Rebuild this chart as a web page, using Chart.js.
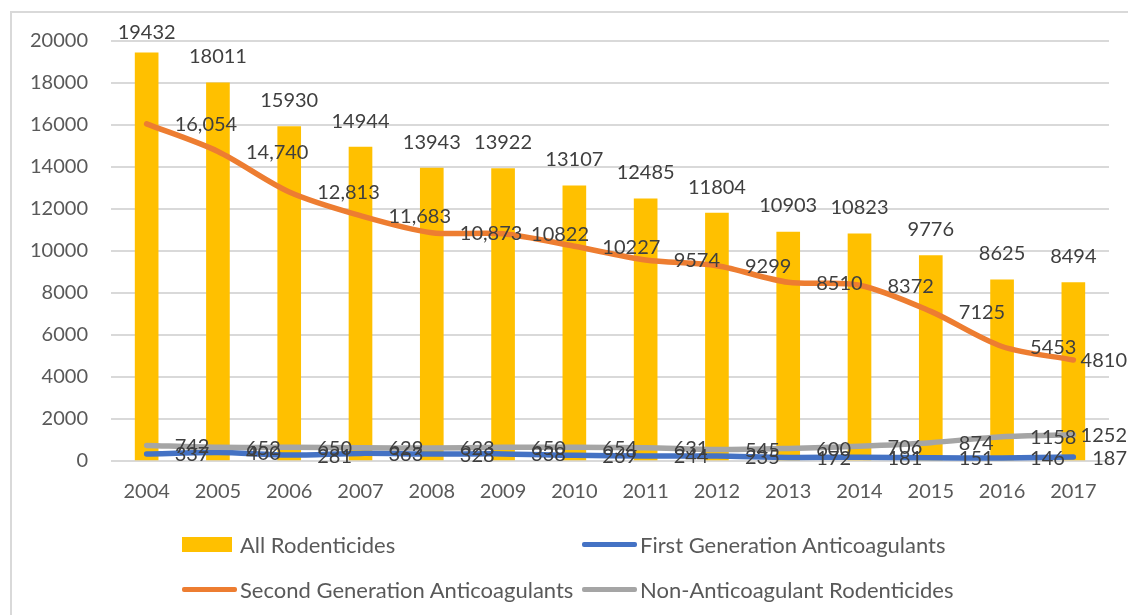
<!DOCTYPE html>
<html>
<head>
<meta charset="utf-8">
<script src="https://cdn.jsdelivr.net/npm/chart.js@4"></script>
<style>
  html, body { margin: 0; padding: 0; background: #fff; }
  #wrap { position: relative; width: 1128px; height: 615px; overflow: hidden; background: #fff; }
  #frame { position: absolute; left: 10px; top: 11px; width: 1300px; height: 800px;
           border-left: 2px solid #d9d9d9; border-top: 2px solid #d9d9d9; }
  #c { position: absolute; left: 0; top: 0; }
  #legend { position: absolute; left: 182px; top: 522px; display: grid;
            grid-template-columns: 400px auto; grid-auto-rows: 45px;
            font-family: Lato, "Open Sans", sans-serif; font-size: 22px; color: #595959; }
  .item { display: flex; align-items: center; white-space: nowrap; }
  .sw { display: inline-block; margin-right: 3px; }
</style>
</head>
<body>
<div id="wrap">
  <div id="frame"></div>
  <canvas id="c" width="1128" height="615"></canvas>
  <div id="legend"></div>
</div>
<script>
const categories = ['2004','2005','2006','2007','2008','2009','2010','2011','2012','2013','2014','2015','2016','2017'];
const allRodenticides = [19432, 18011, 15930, 14944, 13943, 13922, 13107, 12485, 11804, 10903, 10823, 9776, 8625, 8494];
const firstGeneration = [337, 400, 281, 363, 328, 338, 269, 244, 235, 172, 181, 151, 146, 187];
const secondGeneration = [16054, 14740, 12813, 11683, 10873, 10822, 10227, 9574, 9299, 8510, 8372, 7125, 5453, 4810];
const nonAnticoagulant = [742, 652, 650, 629, 623, 650, 654, 631, 545, 600, 706, 874, 1158, 1252];
const yTicks = [0, 2000, 4000, 6000, 8000, 10000, 12000, 14000, 16000, 18000, 20000];
const seriesNames = ['All Rodenticides', 'First Generation Anticoagulants', 'Second Generation Anticoagulants', 'Non-Anticoagulant Rodenticides'];
const commaLabelCount = 5; // first labels of second-generation series shown with thousands separator

const FONT = 'Lato, "Open Sans", sans-serif';
const colors = ['#FFC000', '#4472C4', '#ED7D31', '#A5A5A5'];

function fmt(dsIndex, i, v) {
  if (dsIndex === 2 && i < commaLabelCount) return v.toLocaleString('en-US');
  return String(v);
}

const labelPlugin = {
  id: 'valueLabels',
  afterDatasetsDraw(chart) {
    const ctx = chart.ctx;
    ctx.save();
    ctx.font = '20px ' + FONT;
    ctx.fillStyle = '#3f3f3f';
    [0, 1, 2, 3].forEach(di => {
      const meta = chart.getDatasetMeta(di);
      const data = chart.data.datasets[di].data;
      meta.data.forEach((el, i) => {
        const txt = fmt(di, i, data[i]);
        ctx.textBaseline = 'middle';
        if (di === 0) {
          ctx.textAlign = 'center';
          ctx.fillText(txt, el.x, Math.max(el.y - 26, 33));
        } else {
          ctx.textAlign = 'left';
          const w = ctx.measureText(txt).width;
          let x = el.x + 28;
          if (x + w > chart.width - 1) x = chart.width - 1 - w;
          ctx.fillText(txt, x, el.y + 1);
        }
      });
    });
    ctx.restore();
  }
};

const lineBase = { type: 'line', pointRadius: 0, pointHoverRadius: 0, borderWidth: 5.5,
                   tension: 0.3, borderCapStyle: 'round', borderJoinStyle: 'round', fill: false };

const chart = new Chart(document.getElementById('c'), {
  data: {
    labels: categories,
    datasets: [
      { type: 'bar', label: seriesNames[0], data: allRodenticides, backgroundColor: colors[0],
        barThickness: 23, order: 4 },
      Object.assign({}, lineBase, { label: seriesNames[1], data: firstGeneration, borderColor: colors[1], order: 3 }),
      Object.assign({}, lineBase, { label: seriesNames[2], data: secondGeneration, borderColor: colors[2], order: 2 }),
      Object.assign({}, lineBase, { label: seriesNames[3], data: nonAnticoagulant, borderColor: colors[3], order: 1 })
    ]
  },
  options: {
    responsive: false,
    animation: false,
    devicePixelRatio: 1,
    layout: { padding: { top: 41, right: 19, bottom: 0, left: 0 } },
    plugins: { legend: { display: false }, tooltip: { enabled: false } },
    scales: {
      x: {
        offset: true,
        grid: { display: false, drawTicks: false },
        border: { display: false },
        ticks: { font: { family: FONT, size: 20 }, color: '#595959', padding: 19, maxRotation: 0 },
        afterFit(s) { s.height = 154; }
      },
      y: {
        min: 0, max: 20000,
        afterBuildTicks(s) { s.ticks = yTicks.map(v => ({ value: v })); },
        grid: { color: '#d9d9d9', lineWidth: 2, drawTicks: false },
        border: { display: false },
        ticks: { font: { family: FONT, size: 20 }, color: '#595959', padding: 23,
                 callback: v => String(v) },
        afterFit(s) { s.width = 111; }
      }
    }
  },
  plugins: [labelPlugin]
});

// HTML legend built from dataset definitions
const legend = document.getElementById('legend');
[0, 1, 2, 3].forEach(i => {
  const ds = chart.data.datasets[i];
  const item = document.createElement('div');
  item.className = 'item';
  const sw = document.createElement('span');
  sw.className = 'sw';
  if (ds.type === 'bar') {
    sw.style.width = '50px'; sw.style.height = '15px'; sw.style.background = ds.backgroundColor;
    sw.style.marginRight = '8px';
  } else {
    sw.style.width = '55px'; sw.style.height = '5px'; sw.style.background = ds.borderColor;
    sw.style.borderRadius = '2px';
  }
  item.appendChild(sw);
  const t = document.createElement('span');
  t.textContent = ds.label;
  item.appendChild(t);
  legend.appendChild(item);
});
</script>
</body>
</html>
